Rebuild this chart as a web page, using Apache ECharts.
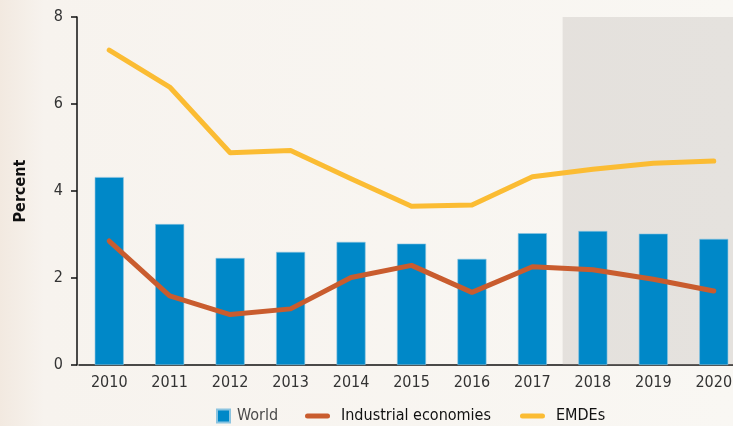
<!DOCTYPE html>
<head>
    <meta charset="utf-8">
    <title>ECharts</title>
</head>
<body style="margin:0">
    <div id="main" style="width:733px;height:426px"></div>
    <script src="https://cdn.jsdelivr.net/npm/echarts@6/dist/echarts.min.js"></script>
<script type="text/javascript">

var years      = ['2010','2011','2012','2013','2014','2015','2016','2017','2018','2019','2020'];
var world      = [4.32, 3.24, 2.46, 2.60, 2.83, 2.79, 2.44, 3.03, 3.08, 3.02, 2.90];
var industrial = [2.85, 1.59, 1.16, 1.29, 2.01, 2.29, 1.67, 2.26, 2.19, 1.97, 1.70];
var emdes      = [7.24, 6.39, 4.88, 4.93, 4.28, 3.65, 3.68, 4.33, 4.50, 4.64, 4.69];
var shadeFrom  = 7.5;   // between 2017 and 2018 (forecast years)
var shadeTo    = 10.5;

var font = "'Liberation Sans Narrow', 'DejaVu Sans Condensed', sans-serif";

var myChart = echarts.init(document.getElementById('main'));

var option = {
    animation: false,
    backgroundColor: new echarts.graphic.LinearGradient(0, 0, 1, 0, [
        {offset: 0, color: '#f2e9e0'},
        {offset: 0.06, color: '#f7f3ee'},
        {offset: 1, color: '#f9f7f3'}
    ]),
    textStyle: {fontFamily: font},
    grid: {left: 79, right: -11, top: 17, bottom: 61, containLabel: false, outerBoundsMode: 'none'},
    legend: [
        {   // World
            left: 211, top: 403,
            itemWidth: 13, itemHeight: 13,
            icon: 'rect',
            data: [{name: 'World', textStyle: {color: '#4a4a4a'}}],
            textStyle: {fontFamily: font, fontSize: 16, padding: [0, 0, 0, 2]}
        },
        {
            left: 300, top: 403,
            itemWidth: 25, itemHeight: 13, itemGap: 29,
            data: [
                {name: 'Industrial economies', icon: 'path://M2.5,0h20a2.5,2.5 0 0 1 0,5h-20a2.5,2.5 0 0 1 0,-5z'},
                {name: 'EMDEs', icon: 'path://M2.5,0h20a2.5,2.5 0 0 1 0,5h-20a2.5,2.5 0 0 1 0,-5z'}
            ],
            textStyle: {fontFamily: font, fontSize: 16, color: '#111', padding: [0, 0, 0, 6]}
        }
    ],
    xAxis: [
        {
            type: 'category',
            data: years,
            axisLine: {lineStyle: {color: '#111', width: 1.5}},
            axisTick: {show: false},
            axisLabel: {color: '#333', fontSize: 16, margin: 10, fontFamily: font}
        },
        {   // helper axis for the shaded forecast area
            type: 'value', min: -0.5, max: 10.5, show: false
        }
    ],
    yAxis: {
        type: 'value',
        min: 0, max: 8, interval: 2,
        offset: 2,
        name: 'Percent',
        nameLocation: 'middle',
        nameRotate: 90,
        nameGap: 48,
        nameTextStyle: {fontSize: 16, fontWeight: 'bold', color: '#111', fontFamily: font},
        axisLine: {show: true, onZero: false, lineStyle: {color: '#111', width: 1.5}},
        axisTick: {show: true, length: 6, lineStyle: {color: '#111', width: 1.5}},
        axisLabel: {color: '#333', fontSize: 16, margin: 14, fontFamily: font},
        splitLine: {show: false}
    },
    series: [
        {
            name: 'World',
            type: 'bar',
            barWidth: 29,
            z: 2,
            itemStyle: {color: '#0088c8', borderColor: '#8cc4e0', borderWidth: 0.6},
            data: world
        },
        {
            name: 'shade',
            type: 'line',
            xAxisIndex: 1,
            z: 3,
            silent: true,
            symbol: 'none',
            lineStyle: {opacity: 0},
            data: [[shadeFrom, 0]],
            markArea: {
                silent: true,
                itemStyle: {color: 'rgba(168,160,155,0.24)'},
                data: [[{xAxis: shadeFrom}, {xAxis: shadeTo}]]
            }
        },
        {
            name: 'Industrial economies',
            type: 'line',
            z: 4,
            symbol: 'none',
            itemStyle: {color: '#c95c2e'},
            lineStyle: {color: '#c95c2e', width: 5, cap: 'round', join: 'round'},
            data: industrial
        },
        {
            name: 'EMDEs',
            type: 'line',
            z: 4,
            symbol: 'none',
            itemStyle: {color: '#fbbc33'},
            lineStyle: {color: '#fbbc33', width: 5, cap: 'round', join: 'round'},
            data: emdes
        }
    ]
};

myChart.setOption(option);

</script>
</body>
